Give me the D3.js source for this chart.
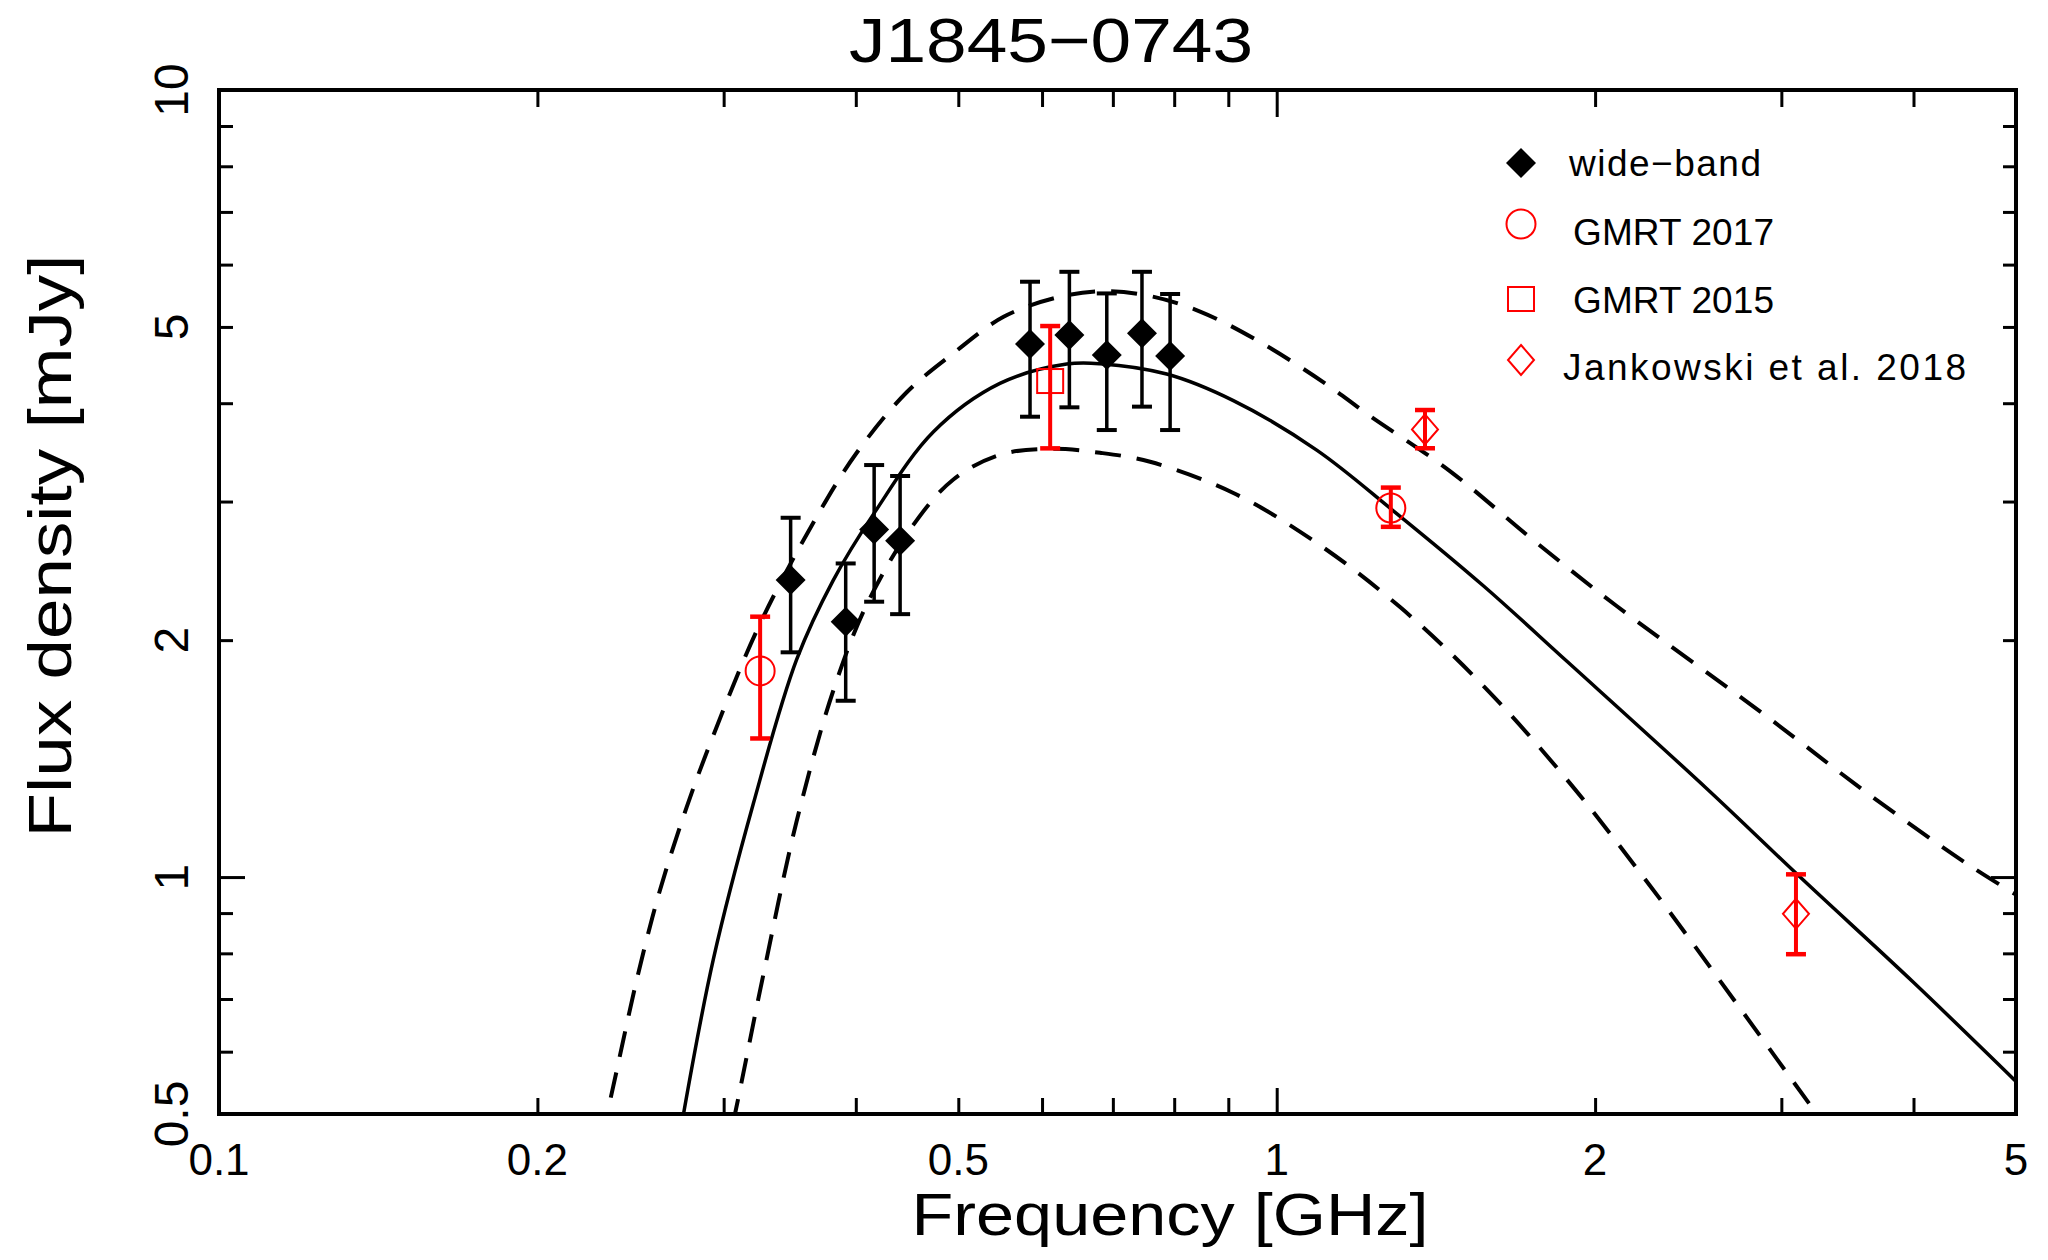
<!DOCTYPE html>
<html>
<head>
<meta charset="utf-8">
<script src="https://cdn.jsdelivr.net/npm/d3@7"></script>
<style>
  body { margin: 0; background: #fff; }
  text { font-family: "Liberation Sans", Arial, Helvetica, sans-serif; fill: #000; }
</style>
</head>
<body>
<svg id="chart" width="2048" height="1260"></svg>
<script>
// tick marks and labels
const xMinorTicks = [0.2, 0.3, 0.4, 0.5, 0.6, 0.7, 0.8, 0.9, 2, 3, 4];
const xMajorTicks = [1];
const xTickLabels = [0.1, 0.2, 0.5, 1, 2, 5];
const yMinorTicks = [0.6, 0.7, 0.8, 0.9, 2, 3, 4, 5, 6, 7, 8, 9];
const yMajorTicks = [1];
const yTickLabels = [0.5, 1, 2, 5, 10];

// [freq GHz, flux mJy, lower, upper]
const wideBand = [
  [0.3471, 2.384, 1.930, 2.861],
  [0.3913, 2.111, 1.675, 2.503],
  [0.4163, 2.765, 2.238, 3.338],
  [0.4405, 2.675, 2.158, 3.233],
  [0.5845, 4.757, 3.845, 5.707],
  [0.6368, 4.884, 3.952, 5.875],
  [0.6908, 4.606, 3.698, 5.515],
  [0.7458, 4.907, 3.960, 5.875],
  [0.7929, 4.592, 3.698, 5.506]
];
const gmrt2017 = [
  [0.3248, 1.828, 1.500, 2.142],
  [1.282, 2.944, 2.786, 3.125]
];
const gmrt2015 = [
  [0.6107, 4.268, 3.505, 5.013]
];
const jankowski2018 = [
  [1.381, 3.705, 3.506, 3.921],
  [3.097, 0.898, 0.798, 1.008]
];

// curves: [freq, flux]
const fitCurve = [
  [0.2700, 0.43], [0.2749, 0.500], [0.2934, 0.787], [0.3200, 1.239], [0.3517, 1.890],
  [0.3809, 2.384], [0.4163, 2.900], [0.4737, 3.680], [0.5474, 4.239], [0.6331, 4.485],
  [0.6807, 4.490], [0.787, 4.356], [0.910, 4.030], [1.091, 3.487], [1.289, 2.920],
  [1.568, 2.345], [1.881, 1.880], [2.551, 1.295], [3.125, 1.000], [3.999, 0.735],
  [5.0, 0.550]
];
const upperCurve = [
  [0.2300, 0.465], [0.2359, 0.542], [0.2492, 0.756], [0.2612, 0.963], [0.2768, 1.227],
  [0.2934, 1.515], [0.3248, 2.10], [0.3674, 2.87], [0.4008, 3.46], [0.4469, 4.13],
  [0.4947, 4.63], [0.5518, 5.15], [0.6200, 5.45], [0.6833, 5.55], [0.7600, 5.47],
  [0.8464, 5.23], [0.9601, 4.80], [1.111, 4.24], [1.2165, 3.88], [1.458, 3.28],
  [1.748, 2.68], [2.096, 2.21], [2.906, 1.60], [3.613, 1.28], [4.492, 1.04],
  [5.0, 0.95]
];
const lowerCurve = [
  [0.3000, 0.43], [0.3075, 0.500], [0.3271, 0.752], [0.3517, 1.178], [0.3809, 1.726],
  [0.4097, 2.22], [0.4532, 2.80], [0.4947, 3.20], [0.5474, 3.44], [0.6107, 3.50],
  [0.6807, 3.46], [0.7591, 3.37], [0.910, 3.076], [1.091, 2.658], [1.308, 2.203],
  [1.568, 1.75], [1.881, 1.33], [2.254, 0.975], [2.702, 0.70], [3.24, 0.50],
  [3.35, 0.47]
];

const legendItems = ["wide−band", "GMRT 2017", "GMRT 2015", "Jankowski et al. 2018"];

const plotLeft = 219, plotRight = 2016, plotTop = 90, plotBottom = 1114;
const red = "#ff0000";

var svg = d3.select("#chart");
var x = d3.scaleLog().domain([0.1, 5]).range([plotLeft, plotRight]);
var y = d3.scaleLog().domain([0.5, 10]).range([plotBottom, plotTop]);

svg.append("defs").append("clipPath").attr("id", "plotArea")
  .append("rect")
  .attr("x", plotLeft).attr("y", plotTop)
  .attr("width", plotRight - plotLeft).attr("height", plotBottom - plotTop);

// model curves
var line = d3.line()
  .x(d => x(d[0]))
  .y(d => y(d[1]))
  .curve(d3.curveCatmullRom.alpha(0.5));

var curves = svg.append("g").attr("clip-path", "url(#plotArea)");
curves.append("path").datum(fitCurve)
  .attr("d", line).attr("fill", "none")
  .attr("stroke", "#000").attr("stroke-width", 3.5);
[upperCurve, lowerCurve].forEach(function(c) {
  curves.append("path").datum(c)
    .attr("d", line).attr("fill", "none")
    .attr("stroke", "#000").attr("stroke-width", 4)
    .attr("stroke-dasharray", "26,16");
});

// error bars
function errorBars(data, color, width, capW) {
  var g = svg.append("g").attr("stroke", color);
  g.selectAll(".bar").data(data).enter().append("line")
    .attr("x1", d => x(d[0])).attr("x2", d => x(d[0]))
    .attr("y1", d => y(d[2])).attr("y2", d => y(d[3]))
    .attr("stroke-width", width);
  [2, 3].forEach(function(k) {
    g.selectAll(".cap" + k).data(data).enter().append("line")
      .attr("x1", d => x(d[0]) - capW / 2).attr("x2", d => x(d[0]) + capW / 2)
      .attr("y1", d => y(d[k])).attr("y2", d => y(d[k]))
      .attr("stroke-width", width + 0.5);
  });
}
errorBars(wideBand, "#000", 3.5, 20);
errorBars(gmrt2017, red, 4, 20);
errorBars(gmrt2015, red, 4, 20);
errorBars(jankowski2018, red, 4, 20);

// marker shapes
var diamondPath = "M0,-15L15,0L0,15L-15,0Z";
var openDiamondPath = "M0,-15L13,0L0,15L-13,0Z";

svg.append("g").selectAll("path").data(wideBand).enter().append("path")
  .attr("d", diamondPath)
  .attr("transform", d => `translate(${x(d[0])},${y(d[1])})`)
  .attr("fill", "#000");

svg.append("g").selectAll("circle").data(gmrt2017).enter().append("circle")
  .attr("cx", d => x(d[0])).attr("cy", d => y(d[1])).attr("r", 14.5)
  .attr("fill", "none").attr("stroke", red).attr("stroke-width", 2);

svg.append("g").selectAll("rect").data(gmrt2015).enter().append("rect")
  .attr("x", d => x(d[0]) - 13).attr("y", d => y(d[1]) - 12)
  .attr("width", 26).attr("height", 24)
  .attr("fill", "none").attr("stroke", red).attr("stroke-width", 2);

svg.append("g").selectAll("path").data(jankowski2018).enter().append("path")
  .attr("d", openDiamondPath)
  .attr("transform", d => `translate(${x(d[0])},${y(d[1])})`)
  .attr("fill", "none").attr("stroke", red).attr("stroke-width", 2);

// frame and ticks (pgplot style, ticks inside)
svg.append("rect")
  .attr("x", plotLeft).attr("y", plotTop)
  .attr("width", plotRight - plotLeft).attr("height", plotBottom - plotTop)
  .attr("fill", "none").attr("stroke", "#000").attr("stroke-width", 4);

function ticks(axis, values, size, transform) {
  svg.append("g")
    .attr("transform", transform)
    .call(axis.tickValues(values).tickSizeInner(-size).tickSizeOuter(0).tickFormat(""))
    .call(g => g.select(".domain").remove())
    .call(g => g.selectAll(".tick line").attr("stroke", "#000").attr("stroke-width", 3));
}
ticks(d3.axisBottom(x), xMinorTicks, 16, `translate(0,${plotBottom})`);
ticks(d3.axisBottom(x), xMajorTicks, 26, `translate(0,${plotBottom})`);
ticks(d3.axisTop(x), xMinorTicks, 17, `translate(0,${plotTop})`);
ticks(d3.axisTop(x), xMajorTicks, 27, `translate(0,${plotTop})`);
ticks(d3.axisLeft(y), yMinorTicks, 14, `translate(${plotLeft},0)`);
ticks(d3.axisLeft(y), yMajorTicks, 26, `translate(${plotLeft},0)`);
ticks(d3.axisRight(y), yMinorTicks, 13, `translate(${plotRight},0)`);
ticks(d3.axisRight(y), yMajorTicks, 25, `translate(${plotRight},0)`);

// tick labels
svg.append("g").selectAll("text").data(xTickLabels).enter().append("text")
  .attr("x", d => x(d)).attr("y", 1175)
  .attr("text-anchor", "middle")
  .style("font-size", "44px")
  .text(d => d);

svg.append("g").selectAll("text").data(yTickLabels).enter().append("text")
  .attr("transform", d => `translate(188,${y(d)}) rotate(-90)`)
  .attr("text-anchor", "middle")
  .style("font-size", "48px")
  .text(d => d);

// titles
svg.append("text")
  .attr("x", 1051).attr("y", 62)
  .attr("text-anchor", "middle")
  .attr("textLength", 404).attr("lengthAdjust", "spacingAndGlyphs")
  .style("font-size", "63px")
  .text("J1845−0743");

svg.append("text")
  .attr("x", 1170).attr("y", 1235)
  .attr("text-anchor", "middle")
  .attr("textLength", 517).attr("lengthAdjust", "spacingAndGlyphs")
  .style("font-size", "60px")
  .text("Frequency [GHz]");

svg.append("text")
  .attr("transform", "translate(71,546) rotate(-90)")
  .attr("text-anchor", "middle")
  .attr("textLength", 583).attr("lengthAdjust", "spacingAndGlyphs")
  .style("font-size", "61px")
  .text("Flux density [mJy]");

// legend
var legend = svg.append("g");
legend.append("path").attr("d", diamondPath)
  .attr("transform", "translate(1521,163)").attr("fill", "#000");
legend.append("circle").attr("cx", 1521).attr("cy", 224).attr("r", 14.5)
  .attr("fill", "none").attr("stroke", red).attr("stroke-width", 2);
legend.append("rect").attr("x", 1508).attr("y", 287).attr("width", 26).attr("height", 24)
  .attr("fill", "none").attr("stroke", red).attr("stroke-width", 2);
legend.append("path").attr("d", openDiamondPath)
  .attr("transform", "translate(1521,360)")
  .attr("fill", "none").attr("stroke", red).attr("stroke-width", 2);

var legendX = [1569, 1573, 1573, 1563];
var legendY = [176, 245, 313, 380];
var legendW = [192, 201, 201, 403];
legend.selectAll("text").data(legendItems).enter().append("text")
  .attr("x", (d, i) => legendX[i]).attr("y", (d, i) => legendY[i])
  .attr("textLength", (d, i) => legendW[i]).attr("lengthAdjust", "spacing")
  .style("font-size", "37px")
  .text(d => d);
</script>
</body>
</html>
